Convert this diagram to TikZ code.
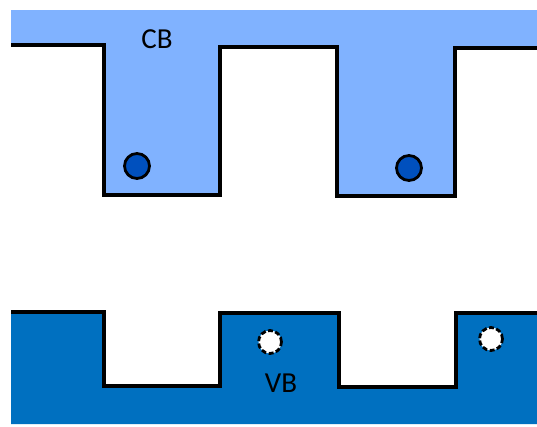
\documentclass[tikz,border=0pt]{standalone}
\usepackage{fontspec}
\setmainfont{Carlito}
\definecolor{cbfill}{RGB}{128,178,255}
\definecolor{vbfill}{RGB}{0,112,192}
\definecolor{electron}{RGB}{0,80,190}
\begin{document}
\begin{tikzpicture}[x=1pt,y=-1pt,
  band/.style={line width=4pt,line join=miter},
  elec/.style={circle,draw=black,line width=2.8pt,fill=electron,minimum size=25pt,inner sep=0pt},
  hole/.style={circle,draw=black,line width=2.8pt,dash pattern=on 5pt off 2.5pt,fill=white,minimum size=23pt,inner sep=0pt},
  lbl/.style={font=\fontsize{29}{31}\selectfont,inner sep=0pt}]
\useasboundingbox (0,0) rectangle (537,426);
% conduction band
\fill[cbfill] (11,10) -- (537,10) -- (537,48) -- (455,48) -- (455,196) -- (337,196) -- (337,47) -- (220,47) -- (220,195) -- (104,195) -- (104,45) -- (11,45) -- cycle;
\draw[band] (11,45) -- (104,45) -- (104,195) -- (220,195) -- (220,47) -- (337,47) -- (337,196) -- (455,196) -- (455,48) -- (537,48);
% valence band
\fill[vbfill] (11,312) -- (104,312) -- (104,386) -- (220,386) -- (220,313) -- (339,313) -- (339,387) -- (456,387) -- (456,313) -- (537,313) -- (537,424) -- (11,424) -- cycle;
\draw[band] (11,312) -- (104,312) -- (104,386) -- (220,386) -- (220,313) -- (339,313) -- (339,387) -- (456,387) -- (456,313) -- (537,313);
% labels
\node[lbl] (cb) at (157,39) {CB};
\node[lbl] (vb) at (281,383) {VB};
% electrons and holes
\node[elec] (e1) at (137,166) {};
\node[elec] (e2) at (409,168) {};
\node[hole] (h1) at (270,342) {};
\node[hole] (h2) at (491,339) {};
\end{tikzpicture}
\end{document}
